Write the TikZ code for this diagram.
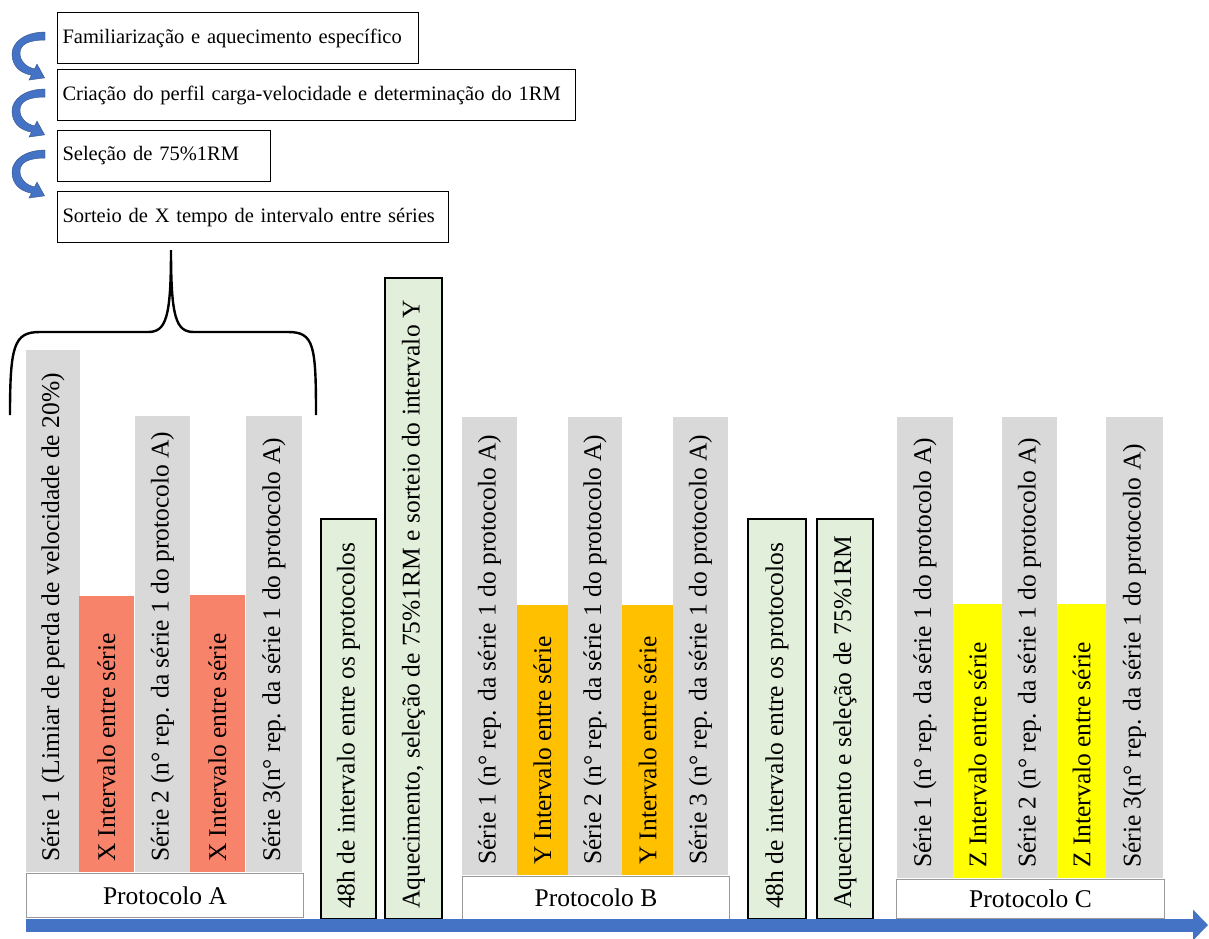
\documentclass[tikz,border=0pt]{standalone}
\usepackage{fontspec}
\setmainfont{Liberation Serif}
\usepackage{xcolor}
\usetikzlibrary{arrows.meta}
\definecolor{barGray}{HTML}{D9D9D9}
\definecolor{barRed}{RGB}{248,131,107}
\definecolor{barOrange}{HTML}{FFC000}
\definecolor{barYellow}{HTML}{FFFF00}
\definecolor{barGreen}{HTML}{E2EFDA}
\definecolor{arrowBlue}{HTML}{4472C4}

\begin{document}
\begin{tikzpicture}[x=1pt,y=-1pt,
		every node/.style={inner sep=0pt},
		stepbox/.style={draw=black,line width=1.1pt,anchor=north west,minimum height=51pt,inner xsep=5pt,align=left,font=\fontsize{20.5}{24}\selectfont},
		bartext/.style={rotate=90,anchor=west,inner xsep=10pt,font=\fontsize{25.5}{30}\selectfont},
		protbox/.style={draw=black!40,fill=white,line width=1pt,anchor=north west,font=\fontsize{25.5}{30}\selectfont},
		greenbar/.style={fill=barGreen,draw=black,line width=1.1pt},
		bendarrow/.style={fill=arrowBlue,draw=arrowBlue!70!black,line width=0.4pt}]
		\useasboundingbox (0,0) rectangle (1209,938);
		% etapas iniciais
		\node[stepbox,text width=351pt] (fam) at (57,12) {Familiarização e aquecimento específico};
		\node[stepbox,text width=508pt] (cria) at (57,69) {Criação do perfil carga-velocidade e determinação do 1RM};
		\node[stepbox,text width=203pt] (sel) at (57,130) {Seleção de 75\%1RM};
		\node[stepbox,text width=381pt] (sort) at (57,191) {Sorteio de X tempo de intervalo entre séries};
		\foreach \stp in {fam,cria,sel}{
			\begin{scope}[shift={(\stp.west)}]
				\filldraw[bendarrow] (-12,-6) .. controls (-32,-6) and (-45,4) .. (-45,16) .. controls (-45,28) and (-37,35) .. (-25.6,37.1) -- (-28,42) -- (-12.4,39.8) -- (-20,26) -- (-22.4,30.9) .. controls (-31,29) and (-37,23) .. (-37,15) .. controls (-37,6) and (-28,2) .. (-12,2) -- cycle;
			\end{scope}
		}
		% chave
		\draw[line width=2.4pt] (10,415) .. controls (10,345) and (14,332) .. (40,332) -- (148,332) .. controls (166,332) and (171,318) .. (171,250) .. controls (171,318) and (176,332) .. (194,332) -- (288,332) .. controls (314,332) and (316,345) .. (316,415);
		% protocolo A
		\fill[barGray] (26,350) rectangle (80,872);
		\node[bartext] (s1A) at (53,872) {Série 1 (Limiar de perda de velocidade de 20\%)};
		\fill[barRed] (79,596) rectangle (134,872);
		\node[bartext] (xA1) at (106.5,872) {X Intervalo entre série};
		\fill[barGray] (135,416) rectangle (190,872);
		\node[bartext] (s2A) at (162.5,872) {Série 2 (n° rep. da série 1 do protocolo A)};
		\fill[barRed] (190,595) rectangle (245,872);
		\node[bartext] (xA2) at (217.5,872) {X Intervalo entre série};
		\fill[barGray] (246,416) rectangle (302,872);
		\node[bartext] (s3A) at (274,872) {Série 3(n° rep. da série 1 do protocolo A)};
		\node[protbox,minimum width=277pt,minimum height=44pt] (protA) at (26,873) {Protocolo A};
		% intervalo A-B
		\filldraw[greenbar] (321,519) rectangle (376,919);
		\node[bartext] (h48A) at (348.5,919) {48h de intervalo entre os protocolos};
		\filldraw[greenbar] (385,278) rectangle (442,919);
		\node[bartext] (aqA) at (413.5,919) {Aquecimento, seleção de 75\%1RM e sorteio do intervalo Y};
		% protocolo B
		\fill[barGray] (462,417) rectangle (517,875);
		\node[bartext] (s1B) at (489.5,875) {Série 1 (n° rep. da série 1 do protocolo A)};
		\fill[barOrange] (517,605) rectangle (568,875);
		\node[bartext] (yB1) at (542.5,875) {Y Intervalo entre série};
		\fill[barGray] (568,417) rectangle (622,875);
		\node[bartext] (s2B) at (595,875) {Série 2 (n° rep. da série 1 do protocolo A)};
		\fill[barOrange] (622,605) rectangle (673,875);
		\node[bartext] (yB2) at (647.5,875) {Y Intervalo entre série};
		\fill[barGray] (673,417) rectangle (728,875);
		\node[bartext] (s3B) at (700.5,875) {Série 3 (n° rep. da série 1 do protocolo A)};
		\node[protbox,minimum width=267pt,minimum height=43pt] (protB) at (462,876) {Protocolo B};
		% intervalo B-C
		\filldraw[greenbar] (748,519) rectangle (806,919);
		\node[bartext] (h48B) at (777,919) {48h de intervalo entre os protocolos};
		\filldraw[greenbar] (817,519) rectangle (873,919);
		\node[bartext] (aqB) at (845,919) {Aquecimento e seleção de 75\%1RM};
		% protocolo C
		\fill[barGray] (897,417) rectangle (953,878);
		\node[bartext] (s1C) at (925,878) {Série 1 (n° rep. da série 1 do protocolo A)};
		\fill[barYellow] (953,604) rectangle (1002,878);
		\node[bartext] (zC1) at (977.5,878) {Z Intervalo entre série};
		\fill[barGray] (1002,417) rectangle (1057,878);
		\node[bartext] (s2C) at (1029.5,878) {Série 2 (n° rep. da série 1 do protocolo A)};
		\fill[barYellow] (1057,604) rectangle (1106,878);
		\node[bartext] (zC2) at (1081.5,878) {Z Intervalo entre série};
		\fill[barGray] (1106,417) rectangle (1163,878);
		\node[bartext] (s3C) at (1134.5,878) {Série 3(n° rep. da série 1 do protocolo A)};
		\node[protbox,minimum width=268pt,minimum height=39pt] (protC) at (896,879) {Protocolo C};
		% linha do tempo
		\coordinate (t0) at (26,925);
		\coordinate (t1) at (1208,925);
		\draw[arrowBlue,line width=13pt,-{Triangle[length=15pt,width=30pt]}] (t0) -- (t1);
	\end{tikzpicture}
\end{document}
